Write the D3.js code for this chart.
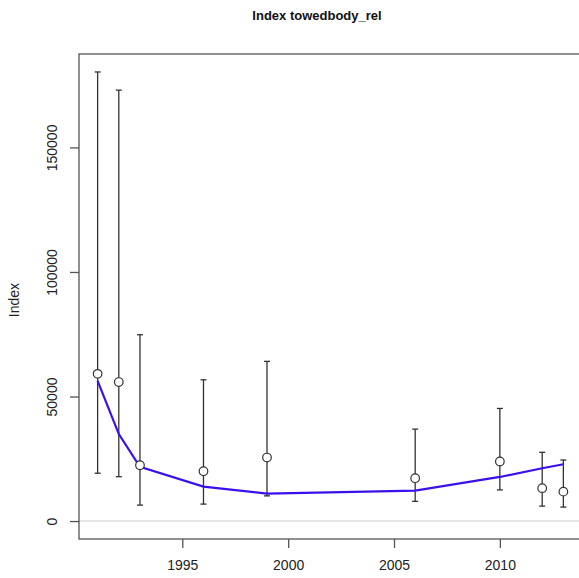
<!DOCTYPE html>
<html lang="en">
<head>
    <meta charset="UTF-8">
    <title>Index towedbody_rel</title>
    <style>
        body { margin: 0; background: #fff; }
        svg { display: block; font-family: "Liberation Sans", Arial, sans-serif; }
    </style>
</head>
<body>
    <svg width="579" height="578"></svg>
    <script src="https://d3js.org/d3.v7.min.js"></script>
    <script>
        // survey years and index estimates with error bars
        var years = [1991, 1992, 1993, 1996, 1999, 2006, 2010, 2012, 2013]
        var index = [59100, 55800, 22400, 20000, 25500, 17200, 23900, 13200, 11800]
        var lower = [19200, 17800, 6400, 6800, 10100, 7900, 12500, 6000, 5600]
        var upper = [180300, 173000, 74800, 56700, 64100, 36900, 45200, 27600, 24500]
        // fitted trend (blue line)
        var fitted = [56300, 34900, 21800, 13800, 11000, 12200, 17700, 21200, 22800]
        var xTicks = [1995, 2000, 2005, 2010]
        var yTicks = [0, 50000, 100000, 150000]

        var svg = d3.select('svg')
        var boxL = 79, boxR = 582, boxT = 54, boxB = 539

        // R style 4% padding on both axes
        var x = d3.scaleLinear().domain([1990.12, 2013.88]).range([boxL, boxR])
        var y = d3.scaleLinear().domain([-7210, 187510]).range([boxB, boxT])

        // zero reference line
        svg.append('line')
            .attr('x1', boxL).attr('x2', boxR)
            .attr('y1', y(0)).attr('y2', y(0))
            .attr('stroke', '#e6e6e6')
            .attr('stroke-width', 2)

        // plot box
        svg.append('rect')
            .attr('x', boxL).attr('y', boxT)
            .attr('width', boxR - boxL).attr('height', boxB - boxT)
            .attr('fill', 'none')
            .attr('stroke', '#555')
            .attr('stroke-width', 1.3)

        // axes
        var xAxis = d3.axisBottom(x).tickValues(xTicks).tickFormat(d3.format('d')).tickSize(9).tickPadding(12)
        var gx = svg.append('g').attr('transform', 'translate(0,' + boxB + ')').call(xAxis)
        gx.select('.domain').remove()
        gx.selectAll('line').attr('stroke', '#555').attr('stroke-width', 1.3)
        gx.selectAll('text').attr('font-size', 14).attr('fill', '#222')

        var yAxis = d3.axisLeft(y).tickValues(yTicks).tickFormat(d3.format('d')).tickSize(9)
        var gy = svg.append('g').attr('transform', 'translate(' + boxL + ',0)').call(yAxis)
        gy.select('.domain').remove()
        gy.selectAll('line').attr('stroke', '#555').attr('stroke-width', 1.3)
        gy.selectAll('text')
            .attr('font-size', 14).attr('fill', '#222')
            .attr('x', null)
            .attr('text-anchor', 'middle')
            .attr('transform', 'translate(-27,0) rotate(-90)')
            .attr('dy', '0.35em')

        // error bars
        var bars = svg.append('g').attr('stroke', '#333').attr('stroke-width', 1.3)
        years.forEach(function(yr, i) {
            bars.append('line')
                .attr('x1', x(yr)).attr('x2', x(yr))
                .attr('y1', y(lower[i])).attr('y2', y(upper[i]))
            bars.append('line')
                .attr('x1', x(yr) - 3).attr('x2', x(yr) + 3)
                .attr('y1', y(lower[i])).attr('y2', y(lower[i]))
            bars.append('line')
                .attr('x1', x(yr) - 3).attr('x2', x(yr) + 3)
                .attr('y1', y(upper[i])).attr('y2', y(upper[i]))
        })

        // fitted line
        var line = d3.line()
            .x(function(d, i) { return x(years[i]) })
            .y(function(d) { return y(d) })
        svg.append('path')
            .datum(fitted)
            .attr('d', line)
            .attr('fill', 'none')
            .attr('stroke', '#3a10ee')
            .attr('stroke-width', 2.2)

        // points
        svg.selectAll('circle.pt')
            .data(index)
            .enter()
            .append('circle')
            .attr('class', 'pt')
            .attr('cx', function(d, i) { return x(years[i]) })
            .attr('cy', function(d) { return y(d) })
            .attr('r', 4.3)
            .attr('fill', '#fff')
            .attr('stroke', '#333')
            .attr('stroke-width', 1.2)

        // title and y label
        svg.append('text')
            .attr('x', 317).attr('y', 20)
            .attr('text-anchor', 'middle')
            .attr('font-size', 13)
            .attr('font-weight', 'bold')
            .attr('fill', '#111')
            .text('Index towedbody_rel')

        svg.append('text')
            .attr('transform', 'translate(19,300) rotate(-90)')
            .attr('text-anchor', 'middle')
            .attr('font-size', 14)
            .attr('fill', '#222')
            .text('Index')
    </script>
</body>
</html>
